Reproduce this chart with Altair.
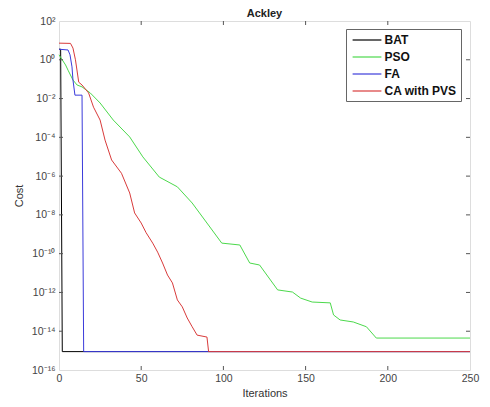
import altair as alt
import pandas as pd

series_names = ["BAT", "PSO", "FA", "CA with PVS"]
series_colors = ["#000000", "#4cd94c", "#3b3bdb", "#d93b3b"]

bat_iter = [0, 1, 2, 250]
bat_cost = [3.5, 3.5, 8.88e-16, 8.88e-16]

pso_iter = [0, 4, 5.5, 8.5, 11, 14, 19, 25, 33, 43, 51, 61, 72, 81, 90, 99, 110, 116,
            122, 133, 142, 147, 154, 165, 167, 171, 179, 187, 193, 250]
pso_cost = [1.8, 0.54, 0.29, 0.09, 0.05, 0.04, 1.95e-2, 5.9e-3, 7.8e-4, 1.05e-4, 9.8e-6,
            8.9e-7, 2.8e-7, 4.1e-8, 3.8e-9, 3.5e-10, 2.8e-10, 3.3e-11, 2.6e-11, 1.35e-12,
            1.05e-12, 5.1e-13, 3.2e-13, 2.9e-13, 6.9e-14, 3.8e-14, 3.0e-14, 1.7e-14,
            4.44e-15, 4.44e-15]

fa_iter = [0, 5.5, 6.7, 7.9, 8.5, 9.7, 14, 15, 250]
fa_cost = [3.5, 3.2, 1.8, 0.43, 0.09, 0.015, 0.015, 8.88e-16, 8.88e-16]

ca_iter = [0, 7, 8.5, 10, 12, 14, 18, 21, 25, 28, 32, 38, 43, 46, 50, 53, 57, 60, 63,
           66, 69, 72, 75, 78, 81, 84, 90, 91, 250]
ca_cost = [7.2, 7.0, 4.0, 1.0, 0.07, 0.05, 1.95e-2, 3.6e-3, 7.8e-4, 7.2e-5, 6.8e-6,
           1.4e-6, 1.35e-7, 1.26e-8, 3.8e-9, 1.2e-9, 3.5e-10, 1.2e-10, 3.3e-11, 7.9e-12,
           3.1e-12, 4.1e-13, 1.8e-13, 4.8e-14, 1.7e-14, 6.3e-15, 5.0e-15, 8.88e-16,
           8.88e-16]

x_ticks = [0, 50, 100, 150, 200, 250]
y_ticks = [1e-16, 1e-14, 1e-12, 1e-10, 1e-8, 1e-6, 1e-4, 1e-2, 1e0, 1e2]
y_tick_labels = ["10⁻¹⁶", "10⁻¹⁴", "10⁻¹²", "10⁻¹⁰", "10⁻⁸", "10⁻⁶", "10⁻⁴", "10⁻²", "10⁰", "10²"]

W, H = 411, 349
FONT = "Liberation Sans"

frames = []
for name, it, cost in [("BAT", bat_iter, bat_cost), ("PSO", pso_iter, pso_cost),
                       ("FA", fa_iter, fa_cost), ("CA with PVS", ca_iter, ca_cost)]:
    frames.append(pd.DataFrame({"iter": it, "cost": cost, "series": name}))
df = pd.concat(frames, ignore_index=True)

xscale = alt.Scale(domain=[0, 250], nice=False, zero=False)
yscale = alt.Scale(type="log", domain=[1e-16, 1e2], nice=False)
cscale = alt.Scale(domain=series_names, range=series_colors)

label_expr = "[" + ",".join("'%s'" % s for s in y_tick_labels) + "][round(log(datum.value)/LN10/2)+8]"

xaxis = alt.Axis(values=x_ticks, title="Iterations", ticks=False, domain=False, grid=False,
                 labelFlush=False, labelPadding=3, titlePadding=4, labelFontSize=10.5,
                 titleFontSize=11, labelFont=FONT, titleFont=FONT, labelColor="#444444",
                 titleColor="#333333", titleFontWeight="normal")
yaxis = alt.Axis(values=y_ticks, title="Cost", ticks=False, domain=False, grid=False,
                 labelFlush=False, labelExpr=label_expr, labelPadding=4, titlePadding=7,
                 labelFontSize=10.5, titleFontSize=11, labelFont=FONT, titleFont=FONT,
                 labelColor="#444444", titleColor="#333333", titleFontWeight="normal")
legend = alt.Legend(title=None, orient="none", legendX=287, legendY=8,
                    symbolType="M-2.4,0H2.4", symbolSize=144, symbolStrokeWidth=1.2,
                    symbolOffset=10, labelOffset=10.5, labelFontSize=12,
                    labelFont=FONT, labelFontWeight="bold", labelColor="#111111",
                    strokeColor="#666666", fillColor="white", padding=4, rowPadding=4)

layers = []
for name in series_names:
    layers.append(
        alt.Chart(df).transform_filter(alt.datum.series == name)
        .mark_line(strokeWidth=1, interpolate="linear").encode(
            x=alt.X("iter:Q", scale=xscale, axis=xaxis),
            y=alt.Y("cost:Q", scale=yscale, axis=yaxis),
            color=alt.Color("series:N", scale=cscale, legend=legend),
        )
    )

xt = pd.DataFrame({"iter": [50, 100, 150, 200]})
yt = pd.DataFrame({"cost": y_ticks[1:-1]})
tick_color = "#555555"
tick_layers = [
    alt.Chart(xt).mark_rule(color=tick_color, strokeWidth=1).encode(
        x=alt.X("iter:Q", scale=xscale, axis=xaxis), y=alt.value(H), y2=alt.value(H - 4)),
    alt.Chart(xt).mark_rule(color=tick_color, strokeWidth=1).encode(
        x=alt.X("iter:Q", scale=xscale, axis=xaxis), y=alt.value(0), y2=alt.value(4)),
    alt.Chart(yt).mark_rule(color=tick_color, strokeWidth=1).encode(
        y=alt.Y("cost:Q", scale=yscale, axis=yaxis), x=alt.value(0), x2=alt.value(4)),
    alt.Chart(yt).mark_rule(color=tick_color, strokeWidth=1).encode(
        y=alt.Y("cost:Q", scale=yscale, axis=yaxis), x=alt.value(W), x2=alt.value(W - 4)),
]

chart = alt.layer(*layers, *tick_layers).properties(
    width=W, height=H,
    title=alt.TitleParams("Ackley", fontSize=11, fontWeight="bold", font=FONT,
                          color="#222222", offset=-3, anchor="middle", frame="group"),
    autosize=alt.AutoSizeParams(type="none"),
    padding={"left": 51, "top": 13, "right": 12, "bottom": 29},
).configure_view(stroke="#666666", strokeWidth=1).configure(background="white")

chart.save("out.html", embed_options={"renderer": "svg", "actions": False})
